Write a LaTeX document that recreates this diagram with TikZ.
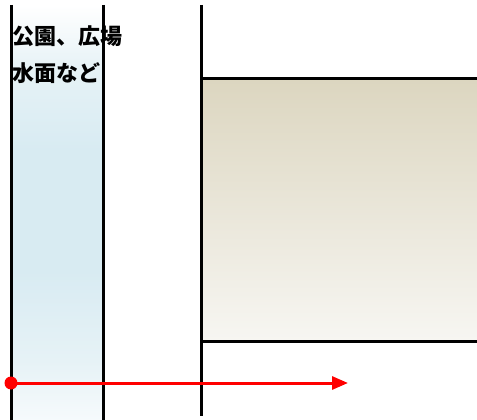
\documentclass[tikz,border=0pt]{standalone}
\usepackage{fontspec}
\newfontfamily\cjkb{Noto Sans CJK JP Black}
\usetikzlibrary{arrows.meta}
\definecolor{waterblue}{HTML}{D8EBF2}
\definecolor{waterlight}{HTML}{E6F2F6}
\definecolor{waterpale}{HTML}{F6FAFC}
\definecolor{bldtop}{HTML}{DCD6C0}
\definecolor{bldbot}{HTML}{F7F6F2}
\pgfdeclareverticalshading{water}{100bp}{color(0bp)=(waterpale); color(25bp)=(waterpale); color(32.2bp)=(waterlight); color(43.1bp)=(waterblue); color(57.5bp)=(waterblue); color(67.2bp)=(waterlight); color(75bp)=(white); color(100bp)=(white)}
\tikzset{
  wall/.style={line width=3pt, black},
  route/.style={line width=3pt, red, -{Triangle[length=16pt,width=13pt]}},
  label/.style={font=\cjkb\fontsize{22}{37}\selectfont, anchor=north west, inner sep=0pt, align=left, text=black}
}
\begin{document}
\begin{tikzpicture}[x=1pt,y=-1pt]
\useasboundingbox (0,0) rectangle (477,420);
% water band
\shade[shading=water] (11,5) rectangle (103,420);
% building
\shade[top color=bldtop, bottom color=bldbot] (201,79) rectangle (477,341);
\coordinate (wl1) at (11,5); \coordinate (wl2) at (11,420);
\coordinate (wr1) at (103,5); \coordinate (wr2) at (103,420);
\coordinate (b1) at (201,5); \coordinate (b2) at (201,416);
\coordinate (t1) at (201,79); \coordinate (t2) at (477,79);
\coordinate (u1) at (201,341); \coordinate (u2) at (477,341);
\draw[wall] (wl1) -- (wl2);
\draw[wall] (wr1) -- (wr2);
\draw[wall] (b1) -- (b2);
\draw[wall] (t1) -- (t2);
\draw[wall] (u1) -- (u2);
\node[label] (txt) at (12,25) {公園、広場\\水面など};
\coordinate (start) at (11,383);
\coordinate (end) at (348,383);
\draw[route] (start) -- (end);
\fill[red] (start) circle (6.5pt);
\end{tikzpicture}
\end{document}
